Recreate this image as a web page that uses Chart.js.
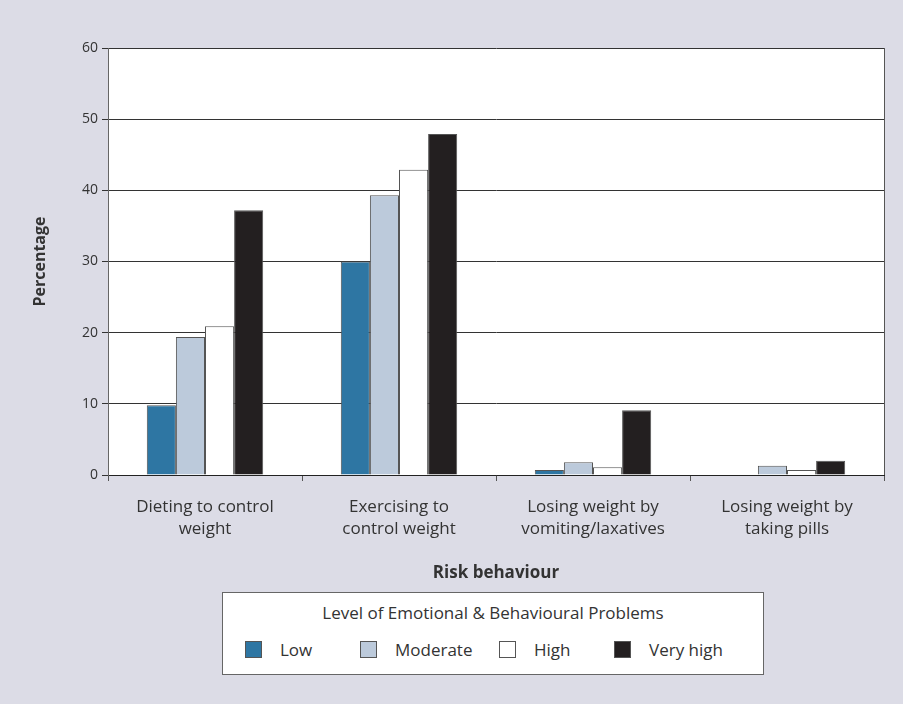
<!DOCTYPE html>
<html>
<head>
<meta charset="utf-8">
<script src="https://cdn.jsdelivr.net/npm/chart.js@4.4.0/dist/chart.umd.min.js"></script>
<style>
  html, body { margin: 0; padding: 0; background: #dcdce6; }
  #wrap { position: relative; width: 903px; height: 704px; font-family: "Open Sans", sans-serif; color: #333; }
  #legend {
    position: absolute; left: 222px; top: 592px; width: 540px; height: 81px;
    background: #fff; border: 1px solid #666;
  }
  #legend .title { position: absolute; top: 8px; left: 0; right: 0; text-align: center; font-size: 17px; }
  #legend .item { position: absolute; top: 47px; font-size: 17px; line-height: 20px; }
  #legend .box { position: absolute; left: 0; top: 1px; width: 17px; height: 17px; border: 1px solid #555; box-sizing: border-box; }
  #legend .lbl { position: absolute; left: 35px; top: 0; white-space: nowrap; }
</style>
</head>
<body>
<div id="wrap">
  <canvas id="riskChart" width="903" height="704"></canvas>
  <div id="legend"><div class="title">Level of Emotional &amp; Behavioural Problems</div></div>
</div>
<script>
// Data
const categories = [
    ['Dieting to control', 'weight'],
    ['Exercising to', 'control weight'],
    ['Losing weight by', 'vomiting/laxatives'],
    ['Losing weight by', 'taking pills']
];
const seriesNames = ['Low', 'Moderate', 'High', 'Very high'];
const lowValues = [9.8, 30.0, 0.7, 0];
const moderateValues = [19.4, 39.3, 1.8, 1.3];
const highValues = [20.9, 42.9, 1.1, 0.7];
const veryHighValues = [37.2, 47.9, 9.1, 2.0];
const yTicks = [0, 10, 20, 30, 40, 50, 60];

const seriesColors = ['#2e76a3', '#bccadb', '#ffffff', '#231f20'];
const legendLeft = [22, 137, 276, 391];

const fontFamily = '"Open Sans", sans-serif';
const textColor = '#333';

// Background + plot frame
const framePlugin = {
    id: 'frame',
    beforeDraw(chart) {
        const ctx = chart.ctx;
        const a = chart.chartArea;
        ctx.save();
        ctx.fillStyle = '#dcdce6';
        ctx.fillRect(0, 0, chart.width, chart.height);
        ctx.fillStyle = '#ffffff';
        ctx.fillRect(a.left, a.top, a.right - a.left, a.bottom - a.top);
        ctx.restore();
    },
    afterDraw(chart) {
        const ctx = chart.ctx;
        const a = chart.chartArea;
        ctx.save();
        ctx.strokeStyle = '#555';
        ctx.lineWidth = 1;
        ctx.beginPath();
        ctx.moveTo(Math.round(a.right) + 0.5, a.top);
        ctx.lineTo(Math.round(a.right) + 0.5, a.bottom);
        ctx.stroke();
        ctx.restore();
    }
};

const allValues = [lowValues, moderateValues, highValues, veryHighValues];

const chart = new Chart(document.getElementById('riskChart'), {
    type: 'bar',
    data: {
        labels: categories,
        datasets: seriesNames.map((name, i) => ({
            label: name,
            data: allValues[i],
            backgroundColor: seriesColors[i],
            borderColor: '#555',
            borderWidth: 1,
            categoryPercentage: 0.6,
            barPercentage: 1.0
        }))
    },
    options: {
        responsive: false,
        animation: false,
        layout: { padding: { top: 48, right: 19, bottom: 114, left: 31 } },
        plugins: {
            legend: { display: false },
            tooltip: { enabled: false }
        },
        scales: {
            x: {
                grid: {
                    offset: true,
                    drawOnChartArea: false,
                    drawTicks: true,
                    tickLength: 6,
                    color: '#555'
                },
                border: { color: '#222', width: 1 },
                ticks: {
                    color: textColor,
                    padding: 16,
                    maxRotation: 0,
                    font: { family: fontFamily, size: 17, lineHeight: 1.25 }
                },
                title: {
                    display: true,
                    text: 'Risk behaviour',
                    color: textColor,
                    font: { family: fontFamily, size: 17, weight: 'bold' },
                    padding: { top: 14, bottom: 7 }
                },
                afterFit(scale) { scale.height = 115; }
            },
            y: {
                min: 0,
                max: 60,
                afterBuildTicks(scale) { scale.ticks = yTicks.map(v => ({ value: v })); },
                grid: {
                    color: '#333',
                    lineWidth: 1,
                    drawTicks: true,
                    tickLength: 6
                },
                border: { color: '#666', width: 1 },
                ticks: {
                    color: textColor,
                    padding: 4,
                    font: { family: fontFamily, size: 14 }
                },
                title: {
                    display: true,
                    text: 'Percentage',
                    color: textColor,
                    font: { family: fontFamily, size: 16, weight: 'bold' },
                    padding: { top: 0, bottom: 0 }
                },
                afterFit(scale) { scale.width = 77; }
            }
        }
    },
    plugins: [framePlugin]
});

// Legend built from the datasets
const legendEl = document.getElementById('legend');
chart.data.datasets.forEach((ds, i) => {
    const item = document.createElement('div');
    item.className = 'item';
    item.style.left = legendLeft[i] + 'px';
    const box = document.createElement('span');
    box.className = 'box';
    box.style.background = ds.backgroundColor;
    const lbl = document.createElement('span');
    lbl.className = 'lbl';
    lbl.textContent = ds.label;
    item.appendChild(box);
    item.appendChild(lbl);
    legendEl.appendChild(item);
});
</script>
</body>
</html>
